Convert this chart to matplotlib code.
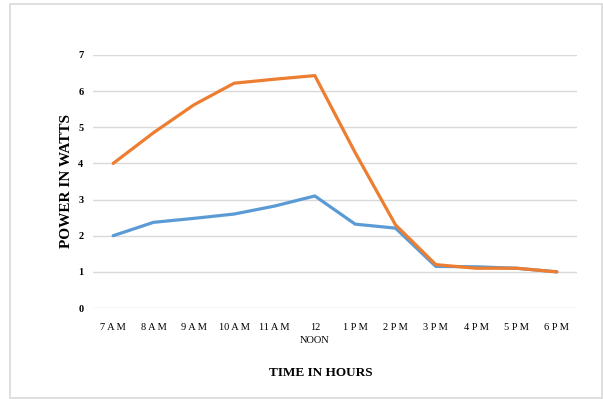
import matplotlib
matplotlib.use('Agg')
import matplotlib.pyplot as plt
from matplotlib.patches import Rectangle

# Hours of the day
hours = ['7 A M', '8 A M', '9 A M', '10 A M', '11 A M', '12\nNOON',
         '1 P M', '2 P M', '3 P M', '4 P M', '5 P M', '6 P M']

# Power readings (watts)
blue_power = [2.0, 2.37, 2.48, 2.6, 2.82, 3.1, 2.32, 2.21, 1.15, 1.14, 1.1, 1.0]
orange_power = [4.0, 4.85, 5.62, 6.22, 6.33, 6.43, 4.3, 2.3, 1.2, 1.1, 1.1, 1.0]

plt.rcParams['font.family'] = 'Liberation Serif'

fig = plt.figure(figsize=(6.03, 3.99), dpi=100)
ax = fig.add_axes([93/603, 1 - 308/399, 484/603, 253/399])

# light grey frame around the whole chart
fig.patches.append(Rectangle((10/603, 1/399), 592/603, 393.5/399, transform=fig.transFigure,
                             fill=False, edgecolor='#d9d9d9', linewidth=1.2))

x = list(range(len(hours)))
ax.plot(x, blue_power, color='#5B9BD5', linewidth=2.3, solid_capstyle='round')
ax.plot(x, orange_power, color='#ED7D31', linewidth=2.3, solid_capstyle='round')

ax.set_xlim(-0.5, len(hours) - 0.5)
ax.set_ylim(0, 7)
ax.set_yticks(range(0, 8))
ax.grid(axis='y', color='#d9d9d9', linewidth=1)
ax.set_axisbelow(True)
for s in ax.spines.values():
    s.set_visible(False)

ax.set_xticks(x)
ax.set_xticklabels(hours, fontsize=7.5, linespacing=1.6)
ax.tick_params(axis='both', length=0)
ax.tick_params(axis='x', pad=11)
ax.tick_params(axis='y', pad=7)
for lab in ax.get_yticklabels():
    lab.set_fontsize(7.5)
    lab.set_fontweight('bold')

ax.set_ylabel('POWER IN WATTS', fontsize=11, fontweight='bold')
ax.yaxis.set_label_coords(-0.042, 0.5)
ax.set_xlabel('TIME IN HOURS', fontsize=9.5, fontweight='bold')
ax.xaxis.set_label_coords(0.471, -0.235)

plt.savefig('out.png', dpi=100)
